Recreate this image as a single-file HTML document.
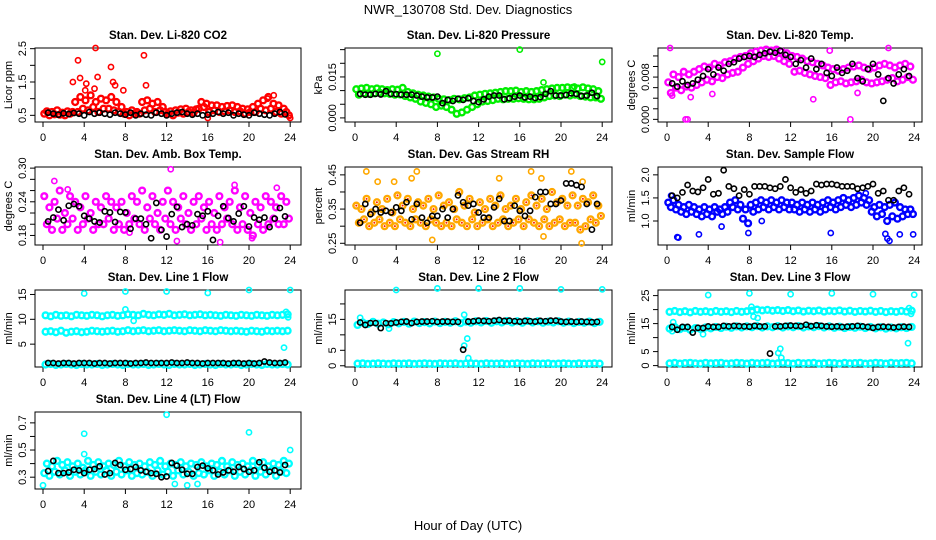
<!DOCTYPE html>
<html><head><meta charset="utf-8"><style>
html,body{margin:0;padding:0;background:#fff;}
svg{display:block;font-family:"Liberation Sans",Arial,sans-serif;}
</style></head><body>
<svg id="chart" width="936" height="540" viewBox="0 0 936 540">
<text x="468" y="14" text-anchor="middle" font-size="13">NWR_130708  Std. Dev. Diagnostics</text>
<text x="468" y="530" text-anchor="middle" font-size="13">Hour of Day (UTC)</text>
</svg>
<script>
const co2C=[.55,.62,.5,.6,.53,.65,.52,.58,.5,.62,.55,.6,.9,.6,1.05,.7,.95,.65,1.1,.75,.9,.6,1.0,.7,.95,.7,1.05,.65,.9,.6,.75,.55,.6,.5,.65,.55,.6,.55,.9,.65,.95,.7,.85,.6,.9,.65,.75,.6,.55,.62,.5,.65,.58,.68,.55,.7,.6,.65,.58,.68,.7,.9,.75,.85,.6,.8,.65,.8,.6,.75,.62,.78,.65,.8,.6,.75,.62,.7,.55,.68,.6,.75,.6,.85,.7,.95,.65,1.05,.7,.85,.6,.8,.55,.7,.6,.5];
const co2Out=[[3.4,2.15],[5.1,2.52],[9.8,2.3],[6.6,1.95],[3.6,1.62],[5.3,1.65],[2.9,1.5],[6.8,1.5],[4.2,1.45],[7.0,1.4],[10.0,1.4],[7.8,1.25],[5.0,1.3],[4.1,1.25],[16,0.42],[24,0.42],[22.4,1.1],[21.8,1.0]];
const co2K=[.58,.55,.52,.56,.54,.57,.55,.5,.6,.55,.58,.55,.52,.58,.55,.52,.58,.5,.55,.52,.5,.58,.55,.5,.55,.58,.6,.55,.52,.55,.5,.52,.55,.6,.55,.58,.5,.55,.52,.5,.58,.55,.52,.5,.55,.6,.53];
const prC=[.0105,.0085,.0108,.009,.011,.0088,.0105,.009,.0108,.0092,.0105,.009,.0102,.0088,.0105,.0085,.0103,.0086,.011,.008,.0095,.0075,.009,.007,.0085,.006,.0082,.0055,.0078,.005,.0075,.004,.007,.0045,.0068,.004,.0065,.003,.007,.0015,.0068,.002,.0072,.003,.0075,.004,.0082,.005,.0085,.006,.0088,.0062,.009,.0065,.0092,.007,.0095,.0068,.0098,.007,.0098,.007,.01,.0072,.0095,.007,.0098,.0068,.0095,.0068,.0098,.007,.0102,.0075,.0105,.008,.0108,.0082,.011,.008,.011,.0085,.0112,.0082,.011,.0085,.0108,.008,.0112,.0078,.0108,.0075,.0105,.0075,.0098,.007];
const prOut=[[8,.0235],[16,.025],[24,.0205],[18.3,.013],[21.3,.0115]];
const prK=[.0088,.0085,.0085,.0088,.0086,.0098,.0088,.0087,.0085,.0085,.0085,.0082,.0078,.0075,.0075,.0078,.0054,.0066,.0062,.007,.0066,.0072,.0062,.0058,.0068,.0078,.0082,.0082,.0068,.0072,.0078,.0082,.0075,.0078,.0073,.0076,.0088,.0098,.0082,.0082,.0084,.009,.0088,.008,.0082,.0092,.008];
const tmC=[.007,.005,.0085,.006,.008,.0055,.009,.0062,.0085,.006,.009,.0065,.0095,.007,.01,.0075,.0098,.0072,.0105,.008,.0102,.0078,.0108,.0085,.011,.0088,.0115,.009,.0118,.0098,.012,.0105,.0125,.011,.0128,.0115,.013,.012,.0132,.0118,.013,.012,.0132,.0115,.0128,.011,.0125,.0105,.012,.009,.0118,.0092,.0115,.0088,.011,.0085,.0108,.0082,.0105,.008,.0102,.0078,.0098,.0065,.0095,.007,.0092,.0072,.0095,.0068,.0098,.007,.01,.0072,.0102,.0075,.0098,.007,.0095,.0068,.0098,.007,.0102,.0072,.0105,.0075,.0102,.0078,.0098,.0072,.0102,.0075,.0105,.008,.01,.0075];
const tmOut=[[0.3,.0135],[1.8,0],[2,0],[17.8,0],[15.8,.013],[21.5,.0135],[14.2,.0038],[2.3,.0042],[4.4,.0048],[18.5,.005],[0.5,.0045]];
const tmK=[.0068,.0062,.0072,.0065,.0068,.0075,.0082,.0095,.0085,.0098,.0092,.0105,.0108,.0115,.0118,.012,.0118,.0122,.0125,.0128,.0126,.013,.0122,.0118,.0105,.0112,.0098,.0115,.0095,.0105,.0088,.0082,.0098,.0088,.0092,.0105,.0078,.0072,.0095,.0105,.0085,.0035,.0078,.0068,.0085,.0095,.0082];
const abC=[.25,.2,.23,.19,.24,.21,.26,.19,.22,.2,.25,.21,.24,.19,.23,.2,.25,.21,.22,.19,.24,.2,.23,.2,.25,.21,.24,.19,.23,.2,.24,.19,.22,.2,.25,.21,.24,.2,.26,.19,.23,.21,.25,.2,.22,.19,.24,.21,.26,.2,.24,.19,.23,.21,.25,.2,.22,.19,.24,.2,.25,.21,.23,.19,.24,.2,.22,.19,.25,.2,.23,.21,.24,.2,.26,.19,.23,.2,.25,.19,.22,.18,.24,.2,.23,.19,.25,.2,.24,.21,.23,.2,.25,.2,.24,.21];
const abOut=[[1.1,.277],[12.4,.298],[18.6,.27],[22.7,.265],[13,.17],[17.2,.168],[20.3,.175],[8.4,.185],[0.1,.25],[2.4,.262]];
const abK=[.205,.212,.226,.207,.233,.236,.232,.215,.21,.205,.203,.223,.221,.204,.222,.221,.192,.21,.21,.2,.175,.238,.19,.178,.218,.231,.195,.2,.198,.218,.215,.223,.172,.215,.232,.211,.205,.219,.232,.196,.212,.208,.212,.195,.21,.229,.214];
const rhC=[.36,.31,.35,.32,.38,.3,.34,.31,.37,.32,.35,.3,.38,.31,.34,.3,.39,.32,.36,.31,.38,.3,.35,.32,.37,.31,.36,.3,.38,.32,.35,.31,.39,.3,.36,.31,.37,.3,.35,.32,.4,.31,.36,.3,.38,.32,.34,.3,.37,.31,.35,.32,.38,.3,.36,.31,.39,.32,.35,.3,.36,.31,.38,.32,.35,.3,.37,.32,.39,.31,.36,.3,.38,.32,.35,.3,.4,.31,.37,.32,.38,.3,.36,.31,.39,.31,.36,.29,.38,.3,.37,.32,.39,.31,.36,.33];
const rhOut=[[1.1,.46],[6,.46],[7.5,.26],[17.1,.46],[18.1,.44],[18.3,.27],[21,.46],[22,.25],[22.1,.43],[14,.44],[3.8,.43],[2.2,.43],[5.5,.44]];
const rhK=[.31,.365,.335,.35,.34,.345,.34,.355,.345,.37,.32,.365,.325,.31,.33,.33,.35,.325,.35,.39,.37,.36,.365,.34,.325,.325,.355,.38,.315,.315,.36,.345,.33,.345,.385,.40,.40,.365,.365,.375,.425,.425,.42,.415,.365,.29,.365];
const sfC=[1.4,1.3,1.45,1.25,1.35,1.2,1.3,1.15,1.35,1.2,1.3,1.15,1.25,1.1,1.3,1.15,1.25,1.1,1.3,1.2,1.25,1.15,1.3,1.2,1.4,1.3,1.45,1.25,1.35,1.05,1.25,0.95,1.35,1.2,1.4,1.25,1.45,1.3,1.4,1.25,1.45,1.3,1.4,1.25,1.45,1.3,1.4,1.25,1.4,1.25,1.35,1.2,1.4,1.25,1.35,1.2,1.4,1.25,1.35,1.2,1.4,1.25,1.45,1.3,1.4,1.25,1.45,1.3,1.5,1.35,1.45,1.3,1.5,1.35,1.55,1.4,1.5,1.35,1.45,1.2,1.3,1.1,1.35,1.15,1.3,1.0,1.35,1.1,1.4,1.05,1.3,1.1,1.25,1.15,1.25,1.15];
const sfOut=[[1,.65],[1.1,.64],[3.1,.71],[5.3,.88],[7.9,.74],[9.2,1.0],[15.9,.74],[21.2,.72],[21.4,.62],[21.6,.57],[22.6,.71],[23.9,.71],[0.4,1.55],[19.3,1.6]];
const sfK=[1.55,1.5,1.62,1.78,1.65,1.63,1.72,1.9,1.58,1.6,2.1,1.75,1.7,1.55,1.68,1.58,1.75,1.75,1.75,1.72,1.7,1.75,1.9,1.72,1.62,1.68,1.6,1.65,1.8,1.78,1.8,1.8,1.78,1.75,1.75,1.75,1.7,1.72,1.75,1.8,1.6,1.65,1.45,1.45,1.65,1.72,1.58];
const l1A=[10.8,10.6,10.9,10.7,10.8,10.6,10.9,10.8,10.7,10.9,10.8,10.6,10.8,10.9,10.7,10.8,11.0,10.9,10.8,11.1,10.9,10.8,11.0,10.9,11.1,10.8,10.9,11.0,10.8,10.9,11.0,10.8,10.9,10.8,10.7,10.9,10.8,10.7,10.9,10.8,10.7,10.9,10.8,10.7,10.9,10.8,10.9,11.0];
const l1B=[7.5,7.6,7.4,7.7,7.3,7.5,7.6,7.4,7.5,7.7,7.6,7.5,7.6,7.7,7.5,7.6,7.8,7.6,7.7,7.8,7.6,7.7,7.8,7.6,7.7,7.8,7.7,7.6,7.8,7.7,7.6,7.8,7.7,7.6,7.8,7.7,7.6,7.7,7.6,7.5,7.7,7.6,7.5,7.7,7.6,7.7,7.6,7.7];
const l1Cc=[0.9,1.0,0.8,0.9,1.0,0.9,0.8,1.0,0.9,0.9,1.0,0.8,0.9,1.0,0.9,0.8,1.0,0.9,0.9,1.0,0.8,0.9,1.0,0.9,0.8,1.0,0.9,0.9,1.0,0.8,0.9,1.0,0.9,0.8,1.0,0.9,0.9,1.0,0.8,0.9,1.0,0.9,0.8,1.0,0.9,0.9,1.0,0.9];
const l1Out=[[4,15.2],[8,15.6],[12,15.6],[16,15.3],[20,15.9],[24,15.9],[8,12],[8.8,9.7],[23.4,4.3],[23.6,11.5],[23.8,10.4]];
const l1K=[1.2,1.2,1.1,1.2,1.2,1.1,1.2,1.2,1.2,1.1,1.2,1.2,1.1,1.2,1.2,1.2,1.1,1.2,1.2,1.3,1.2,1.2,1.2,1.2,1.3,1.2,1.2,1.3,1.2,1.2,1.1,1.2,1.2,1.2,1.2,1.1,1.2,1.2,1.1,1.2,1.1,1.2,1.5,1.3,1.2,1.2,1.3];
const l2A=[13.2,14.0,13.5,14.2,13.6,14.0,13.4,14.1,13.7,14.2,13.6,14.3,13.8,14.1,13.7,14.3,13.8,14.2,13.9,14.4,13.8,14.3,13.9,14.4,14.0,14.5,13.9,14.4,14.0,14.5,14.0,14.4,13.9,14.5,14.0,14.4,13.9,14.3,14.0,14.4,13.9,14.3,13.8,14.2,13.9,14.3,13.8,14.2];
const l2B=[0.7,0.8,0.6,0.7,0.8,0.7,0.6,0.8,0.7,0.7,0.8,0.6,0.7,0.8,0.7,0.6,0.8,0.7,0.7,0.8,0.6,0.7,0.8,0.7,0.6,0.8,0.7,0.7,0.8,0.6,0.7,0.8,0.7,0.6,0.8,0.7,0.7,0.8,0.6,0.7,0.8,0.7,0.6,0.8,0.7,0.7,0.8,0.7];
const l2Out=[[4,24.5],[8,25],[12,25],[16,25],[20,24.7],[24,24.7],[10.6,6.5],[10.9,8.8],[11,2.5],[0.5,15.5],[10.6,16.5],[3.3,12]];
const l2K=[14,13.2,13.8,13.8,12.2,13.8,13.7,14,14.2,14.3,13.8,14.2,14.3,14.3,14.4,14.2,14.3,14.3,14.2,14.2,5.2,14.3,14.4,14.6,14.5,14.4,14.6,14.8,14.5,14.6,14.4,14.3,14.5,14.4,14.3,14.5,14.4,14.6,14.6,14.3,14.2,14.3,14.2,14.3,14.2,14.1,14.2];
const l3A=[19.2,19.5,19.1,19.4,19.0,19.5,19.2,19.4,19.1,19.5,19.2,19.4,19.1,19.5,19.2,19.4,19.6,20.0,19.7,19.9,19.6,19.8,19.5,19.8,19.4,19.7,19.3,19.6,19.4,19.7,19.3,19.6,19.4,19.7,19.3,19.6,19.2,19.5,19.3,19.6,19.2,19.5,19.1,19.4,19.2,19.5,19.3,19.6];
const l3B=[13.2,13.8,13.0,13.5,12.8,13.4,13.1,13.6,13.3,13.8,13.4,13.9,13.5,14.0,13.6,14.0,13.7,14.1,13.6,14.0,13.7,14.1,13.6,14.0,13.7,14.1,13.6,14.0,13.7,14.1,13.6,14.0,13.5,13.9,13.4,13.8,13.5,13.9,13.4,13.8,13.3,13.7,13.2,13.6,13.3,13.7,13.4,13.8];
const l3Cc=[0.8,1.0,0.7,0.9,1.0,0.8,0.7,1.0,0.8,0.9,1.0,0.7,0.8,1.0,0.9,0.7,1.0,0.8,0.9,1.0,0.7,0.8,1.0,0.9,0.7,1.0,0.8,0.9,1.0,0.7,0.8,1.0,0.9,0.7,1.0,0.8,0.9,1.0,0.7,0.8,1.0,0.9,0.7,1.0,0.8,0.9,1.0,0.8];
const l3Out=[[4,25.2],[8,25.8],[12,25.5],[16,25.8],[20,25.5],[24,25.3],[8.2,21],[8.4,17.5],[8.8,17],[10.8,4.5],[11,6],[11.1,2.8],[23.4,8],[23.5,20.5],[23.7,18.5],[0.6,15.5],[0.5,12.3],[3.5,11.2]];
const l3K=[13.8,12.8,13.8,13.8,11.8,13.5,13.4,14,13.8,13.8,14.2,14,14.2,14.1,14,13.9,14.2,14,14,4.3,14,14,14.2,14.3,14.2,14.1,14.6,14.1,14.4,14.2,14.0,13.9,14,13.8,13.9,14.0,14.2,14.0,13.8,13.5,13.8,13.9,13.8,13.6,13.8,13.9,13.8];
const l4C=[.33,.4,.31,.38,.34,.42,.32,.39,.35,.41,.31,.38,.34,.4,.32,.37,.35,.42,.31,.39,.34,.41,.32,.38,.35,.4,.31,.39,.34,.42,.32,.38,.35,.41,.31,.39,.33,.4,.32,.38,.34,.41,.31,.39,.35,.42,.32,.38,.34,.4,.31,.39,.35,.41,.32,.38,.34,.4,.31,.39,.33,.41,.32,.38,.35,.4,.31,.39,.34,.42,.32,.38,.35,.41,.31,.39,.34,.4,.32,.38,.35,.42,.31,.39,.34,.41,.32,.38,.35,.4,.31,.39,.34,.42,.33,.4];
const l4Out=[[0,0.24],[4,0.62],[4,0.47],[12,0.76],[20,0.63],[24,0.5],[14,0.24],[12.8,0.25],[15,0.25]];
const l4K=[.345,.42,.33,.33,.335,.355,.35,.33,.355,.36,.38,.32,.33,.405,.39,.355,.36,.375,.35,.34,.33,.325,.3,.305,.405,.385,.355,.325,.325,.375,.385,.365,.35,.32,.335,.35,.34,.375,.36,.34,.35,.41,.37,.34,.35,.335,.39];
const xTicks=[0,4,8,12,16,20,24];

const colL=[35,345,658], colR=[301,612,922], colX0=[43,355,667], pxH=10.3;
const rowT=[48,167,290,412], rowB=[122,245,367,489];
const panels=[
 {name:'co2',title:'Stan. Dev. Li-820 CO2',ylab:'Licor ppm',c:0,r:0,lo:0.30,hi:2.52,ticks:[0.5,1,1.5,2,2.5],labs:[0.5,1.5,2.5],dec:1,col:'#ff0000',sets:[co2C],out:co2Out,k:co2K},
 {name:'pressure',title:'Stan. Dev. Li-820 Pressure',ylab:'kPa',c:1,r:0,lo:-0.0015,hi:0.0256,ticks:[0,.005,.01,.015,.02,.025],labs:[0,.015],dec:3,col:'#00ee00',sets:[prC],out:prOut,k:prK},
 {name:'temp',title:'Stan. Dev. Li-820 Temp.',ylab:'degrees C',c:2,r:0,lo:-0.0005,hi:0.0135,ticks:[0,.002,.004,.006,.008,.01,.012],labs:[0,.008],dec:3,col:'#ff00ff',sets:[tmC],out:tmOut,k:tmK},
 {name:'amb-box-temp',title:'Stan. Dev. Amb. Box Temp.',ylab:'degrees C',c:0,r:1,lo:0.163,hi:0.302,ticks:[.18,.2,.22,.24,.26,.28,.3],labs:[.18,.24,.3],dec:2,col:'#ff00ff',sets:[abC],out:abOut,k:abK},
 {name:'gas-rh',title:'Stan. Dev. Gas Stream RH',ylab:'percent',c:1,r:1,lo:0.245,hi:0.473,ticks:[.25,.3,.35,.4,.45],labs:[.25,.35,.45],dec:2,col:'#ffa800',sets:[rhC],out:rhOut,k:rhK},
 {name:'sample-flow',title:'Stan. Dev. Sample Flow',ylab:'ml/min',c:2,r:1,lo:0.48,hi:2.17,ticks:[1,1.5,2],labs:[1,1.5,2],dec:1,col:'#0000ff',sets:[sfC],out:sfOut,k:sfK},
 {name:'line1',title:'Stan. Dev. Line 1 Flow',ylab:'ml/min',c:0,r:2,lo:0.4,hi:15.9,ticks:[5,10,15],labs:[5,10,15],dec:0,col:'#00ffff',sets:[l1A,l1B,l1Cc],out:l1Out,k:l1K},
 {name:'line2',title:'Stan. Dev. Line 2 Flow',ylab:'ml/min',c:1,r:2,lo:-0.4,hi:24.5,ticks:[0,5,10,15,20],labs:[0,5,15],dec:0,col:'#00ffff',sets:[l2A,l2B],out:l2Out,k:l2K},
 {name:'line3',title:'Stan. Dev. Line 3 Flow',ylab:'ml/min',c:2,r:2,lo:-0.5,hi:27,ticks:[0,5,10,15,20,25],labs:[0,5,15,25],dec:0,col:'#00ffff',sets:[l3A,l3B,l3Cc],out:l3Out,k:l3K},
 {name:'line4',title:'Stan. Dev. Line 4 (LT) Flow',ylab:'ml/min',c:0,r:3,lo:0.213,hi:0.78,ticks:[.3,.4,.5,.6,.7],labs:[.3,.5,.7],dec:1,col:'#00ffff',sets:[l4C],out:l4Out,k:l4K}
];
const NS='http://www.w3.org/2000/svg', svg=document.getElementById('chart');
function mk(tag,attrs,parent){const e=document.createElementNS(NS,tag);for(const a in attrs)e.setAttribute(a,attrs[a]);(parent||svg).appendChild(e);return e;}
function fmt(v,d){return v.toFixed(d);}
panels.forEach(p=>{
  const g=mk('g',{});
  
  
  const L=colL[p.c],R=colR[p.c],T=rowT[p.r],B=rowB[p.r];
  const xs=h=>colX0[p.c]+h*pxH;
  const ys=v=>B-(v-p.lo)/(p.hi-p.lo)*(B-T);
  const box=mk('rect',{x:L,y:T,width:R-L,height:B-T,fill:'none',stroke:'#000','stroke-width':1},g);
  
  
  const t=mk('text',{x:(L+R)/2,y:T-9,'text-anchor':'middle','font-size':11.5,'font-weight':'bold'},g);
  t.textContent=p.title;
  
  
  const yl=mk('text',{x:0,y:0,'text-anchor':'middle','font-size':11,transform:`translate(${L-23},${(T+B)/2}) rotate(-90)`},g);
  yl.textContent=p.ylab;
  
  
  const ax=mk('g',{stroke:'#000','stroke-width':1},g);
  
  
  mk('line',{x1:xs(xTicks[0]),x2:xs(xTicks[xTicks.length-1]),y1:B,y2:B},ax);
  xTicks.forEach(h=>{
    mk('line',{x1:xs(h),x2:xs(h),y1:B,y2:B+5},ax);
    const tl=mk('text',{x:xs(h),y:B+19,'text-anchor':'middle','font-size':11,stroke:'none'},g);
    tl.textContent=h;
    
    
  });
  const ay=mk('g',{stroke:'#000','stroke-width':1},g);
  
  
  mk('line',{x1:L,x2:L,y1:ys(p.ticks[0]),y2:ys(p.ticks[p.ticks.length-1])},ay);
  p.ticks.forEach(v=>mk('line',{x1:L-5,x2:L,y1:ys(v),y2:ys(v)},ay));
  p.labs.forEach(v=>{
    const tl=mk('text',{x:0,y:0,'text-anchor':'middle','font-size':11,transform:`translate(${L-9},${ys(v)}) rotate(-90)`},g);
    tl.textContent=fmt(v,p.dec);
    
    
  });
  const sc=mk('g',{fill:'none',stroke:p.col,'stroke-width':2.4},g);
  
  
  p.sets.forEach(arr=>{
    const step=24/arr.length;
    arr.forEach((v,i)=>{
      const c=mk('circle',{cx:xs(i*step+step/2),cy:ys(v),r:2.9},sc);
      
      
    });
  });
  p.out.forEach(o=>{
    const c=mk('circle',{cx:xs(o[0]),cy:ys(o[1]),r:2.6,'stroke-width':1.6},sc);
    
    
  });
  if(p.name==='gas-rh'){
    p.sets[0].forEach((v,i)=>{const s=24/p.sets[0].length;const c=mk('circle',{cx:xs(i*s+s/2),cy:ys(v),r:1,fill:'#ff2000',stroke:'none'},sc);
      
      });
  }
  const sk=mk('g',{fill:'none',stroke:'#000','stroke-width':1.6},g);
  
  
  p.k.forEach((v,i)=>{
    const c=mk('circle',{cx:xs(0.5+i*0.5),cy:ys(v),r:2.6},sk);
    
    
  });
});
</script>
</body></html>
